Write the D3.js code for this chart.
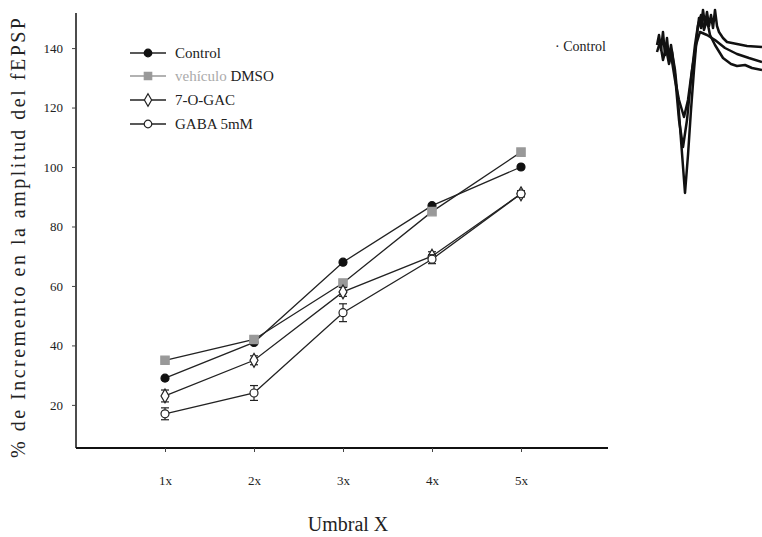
<!DOCTYPE html>
<html><head><meta charset="utf-8">
<script src="https://cdn.jsdelivr.net/npm/d3@7"></script>
<style>body{margin:0;background:#fff}svg{display:block;font-family:"Liberation Serif","Times New Roman",serif}</style>
</head><body>
<svg id="c" width="762" height="537"></svg>
<script>
const categories = ["1x","2x","3x","4x","5x"];
const yTicks = [20,40,60,80,100,120,140];
const seriesNames = ["Control","vehículo DMSO","7-O-GAC","GABA 5mM"];
const control = [29,41,68,87,100];
const dmso = [35,42,61,85,105];
const ogac = [23,35,58,70,91];
const gaba = [17,24,51,69,91];
const ogacErr = [2,1.5,1.5,1.5,1];
const gabaErr = [2,2.5,3,1.5,1];
// inset fEPSP traces (time units, amplitude units)
const traceA = [[0,-5],[2,5],[4,-10],[6,8],[8,-15],[10,2],[12,-20],[14,-5],[16,-18],[18,-30],[21,-60],[24,-100],[28,-153],[31,-115],[34,-70],[37,-30],[40,5],[42,22],[44,12],[46,30],[48,15],[50,28],[52,14],[54,25],[56,12],[58,30],[60,14],[62,8],[66,2],[70,-2],[80,-4],[90,-6],[105,-7]];
const traceB = [[0,-12],[3,-2],[6,-20],[9,-8],[12,-24],[15,-12],[18,-35],[22,-80],[26,-107],[30,-80],[34,-40],[38,-5],[41,15],[44,25],[47,10],[50,20],[53,5],[58,-5],[66,-18],[74,-24],[80,-26],[88,-25],[95,-28],[105,-30]];
const traceC = [[14,-15],[18,-40],[22,-60],[27,-77],[31,-60],[35,-30],[39,-5],[43,8],[50,5],[58,0],[68,-8],[80,-14],[92,-18],[105,-22]];

const svg = d3.select("#c");
const x = d3.scalePoint().domain(categories).range([165,521]);
const y = d3.scaleLinear().domain([5.5,151.8]).range([448,13]);

// axes
const yAxis = svg.append("g").attr("transform","translate(76,0)")
  .call(d3.axisLeft(y).tickValues(yTicks).tickSize(4).tickPadding(9));
yAxis.select(".domain").attr("d","M0,13V448").attr("stroke","#111").attr("stroke-width",1.5);
yAxis.selectAll("text").attr("font-size",13).attr("fill","#222").attr("font-family","Liberation Serif");
yAxis.selectAll("line").attr("stroke","#444");

const xAxis = svg.append("g").attr("transform","translate(0,448)")
  .call(d3.axisBottom(x).tickSize(4).tickPadding(24));
xAxis.select(".domain").attr("d","M76,0H608").attr("stroke","#111").attr("stroke-width",2);
xAxis.selectAll("text").attr("font-size",13).attr("fill","#222").attr("font-family","Liberation Serif");
xAxis.selectAll("line").attr("stroke","#444");

// titles
svg.append("text").attr("x",348).attr("y",531).attr("text-anchor","middle")
  .attr("font-size",20).attr("fill","#222").text("Umbral  X");
svg.append("text").attr("transform","translate(25,238) rotate(-90)").attr("text-anchor","middle")
  .attr("font-size",20).attr("fill","#222").attr("textLength",440).attr("lengthAdjust","spacing")
  .text("% de Incremento  en la amplitud del fEPSP");

const line = d3.line().x((d,i)=>x(categories[i])).y(d=>y(d));
const series = [
  {vals:control, err:null, sym:"circle", fill:"#111", stroke:"#111"},
  {vals:dmso, err:null, sym:"square", fill:"#999", stroke:"#999"},
  {vals:ogac, err:ogacErr, sym:"diamond", fill:"#fff", stroke:"#222"},
  {vals:gaba, err:gabaErr, sym:"circle", fill:"#fff", stroke:"#222"}
];
const symT = {circle:d3.symbolCircle, square:d3.symbolSquare, diamond:d3.symbolDiamond};

series.forEach(s=>{
  svg.append("path").attr("d",line(s.vals)).attr("fill","none").attr("stroke","#222").attr("stroke-width",1.3);
});
series.forEach(s=>{
  if(s.err){
    s.vals.forEach((v,i)=>{
      const cx = x(categories[i]);
      const g = svg.append("g").attr("stroke","#222").attr("stroke-width",1.2);
      g.append("line").attr("x1",cx).attr("x2",cx).attr("y1",y(v-s.err[i])).attr("y2",y(v+s.err[i]));
      g.append("line").attr("x1",cx-4).attr("x2",cx+4).attr("y1",y(v-s.err[i])).attr("y2",y(v-s.err[i]));
      g.append("line").attr("x1",cx-4).attr("x2",cx+4).attr("y1",y(v+s.err[i])).attr("y2",y(v+s.err[i]));
    });
  }
  s.vals.forEach((v,i)=>{
    svg.append("path").attr("d",d3.symbol().type(symT[s.sym]).size(s.sym==="square"?70:s.sym==="diamond"?55:50)())
      .attr("transform",`translate(${x(categories[i])},${y(v)})`)
      .attr("fill",s.fill).attr("stroke",s.stroke).attr("stroke-width",1.2);
  });
});

// legend
const legY = [53,76,100,124];
series.forEach((s,i)=>{
  const g = svg.append("g").attr("transform",`translate(0,${legY[i]})`);
  g.append("line").attr("x1",130).attr("x2",166).attr("stroke",i===1?"#999":"#222").attr("stroke-width",1.3);
  g.append("path").attr("d",d3.symbol().type(symT[s.sym]).size(s.sym==="square"?55:45)())
    .attr("transform","translate(148,0)").attr("fill",s.fill).attr("stroke",s.stroke).attr("stroke-width",1.2);
  const t = g.append("text").attr("x",175).attr("y",5).attr("font-size",15).attr("fill","#222");
  if(i===1){
    t.append("tspan").attr("fill","#aaa").text("vehículo");
    t.append("tspan").text(" DMSO");
  } else t.text(seriesNames[i]);
});

// inset traces
svg.append("text").attr("x",555).attr("y",51).attr("font-size",14).attr("fill","#222").text("· Control");
const tx = d3.scaleLinear().domain([0,105]).range([657,762]);
const ty = d3.scaleLinear().domain([40,-160]).range([0,200]);
const tl = d3.line().x(d=>tx(d[0])).y(d=>ty(d[1])).curve(d3.curveLinear);
[traceA,traceB,traceC].forEach(tr=>{
  svg.append("path").attr("d",tl(tr)).attr("fill","none").attr("stroke","#111").attr("stroke-width",2.5).attr("stroke-linejoin","round");
});
</script>
</body></html>
